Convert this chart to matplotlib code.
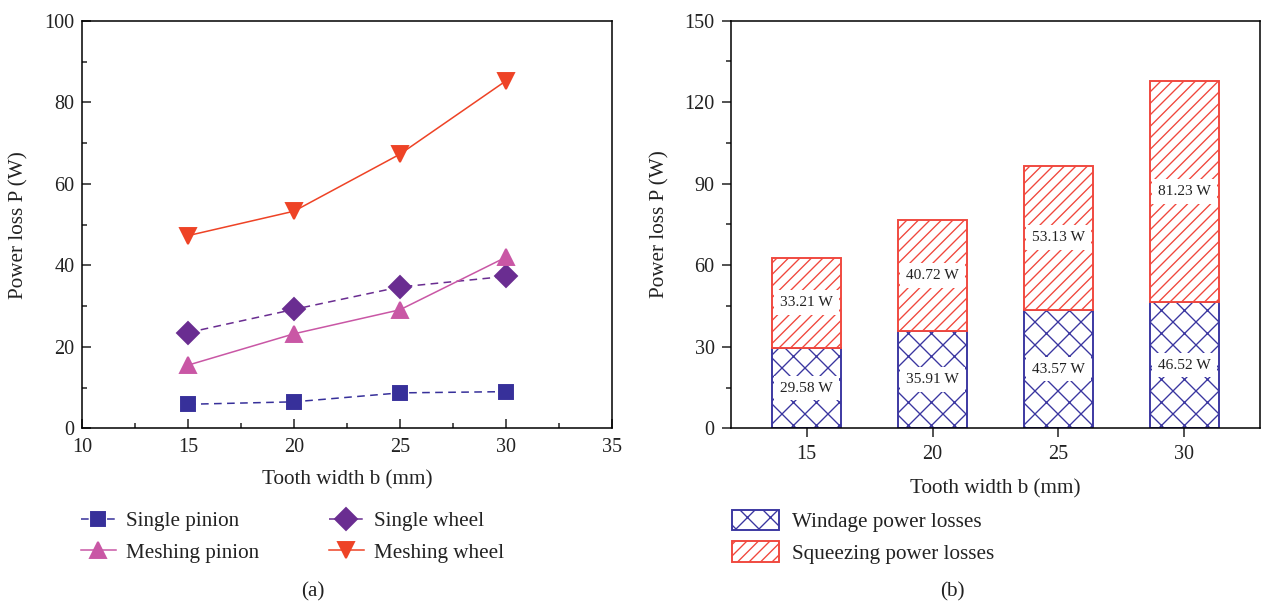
import numpy as np
import matplotlib
matplotlib.use("Agg")
import matplotlib.pyplot as plt
from matplotlib.ticker import MultipleLocator

plt.rcParams['font.family'] = ['Liberation Serif', 'DejaVu Serif']
plt.rcParams['hatch.linewidth'] = 0.7
plt.rcParams['axes.linewidth'] = 0.8

# tooth width b (mm)
widths = [15, 20, 25, 30]

# (a) power loss of each gear, W
single_pinion = [5.9, 6.5, 8.7, 9.0]
single_wheel = [23.5, 29.2, 34.7, 37.3]
meshing_pinion = [15.5, 23.2, 29.1, 42.0]
meshing_wheel = [47.3, 53.3, 67.3, 85.3]

# (b) split of the meshing losses, W
windage = [29.58, 35.91, 43.57, 46.52]
squeezing = [33.21, 40.72, 53.13, 81.23]

c_sp = '#37309a'
c_sw = '#6a2d91'
c_mp = '#c957a5'
c_mw = '#ee4326'
c_wind = '#3a36a0'
c_sq = '#f0473d'

DPI = 138
fig = plt.figure(figsize=(1263 / DPI, 603 / DPI), dpi=DPI)
ax1 = fig.add_axes([0.0649, 0.2897, 0.4196, 0.6755])
ax2 = fig.add_axes([0.5788, 0.2897, 0.4188, 0.6760])

# ---- (a) line chart ----
dash = (0, (5, 3.5))
l_sp, = ax1.plot(widths, single_pinion, ls=dash, lw=0.8, color=c_sp,
                 marker='s', ms=7, mec=c_sp, label='Single pinion')
l_sw, = ax1.plot(widths, single_wheel, ls=dash, lw=0.8, color=c_sw,
                 marker='D', ms=7.8, mec=c_sw, label='Single wheel')
l_mp, = ax1.plot(widths, meshing_pinion, ls='-', lw=0.8, color=c_mp,
                 marker='^', ms=8.5, mec=c_mp, label='Meshing pinion')
l_mw, = ax1.plot(widths, meshing_wheel, ls='-', lw=0.8, color=c_mw,
                 marker='v', ms=8.5, mec=c_mw, label='Meshing wheel')

ax1.set_xlim(10, 35)
ax1.set_ylim(0, 100)
ax1.xaxis.set_major_locator(MultipleLocator(5))
ax1.xaxis.set_minor_locator(MultipleLocator(2.5))
ax1.yaxis.set_major_locator(MultipleLocator(20))
ax1.yaxis.set_minor_locator(MultipleLocator(10))
ax1.tick_params(which='both', direction='in', width=0.8, labelsize=10.5,
                colors='#222222')
ax1.tick_params(which='major', length=4.7, pad=4)
ax1.tick_params(axis='x', which='major', pad=5)
ax1.tick_params(which='minor', length=2.4)
ax1.set_xlabel('Tooth width b (mm)', fontsize=11, labelpad=7, color='#222222')
ax1.set_ylabel('Power loss P (W)', fontsize=11, labelpad=8, color='#222222')

fig.legend([l_sp, l_mp, l_sw, l_mw],
           ['Single pinion', 'Meshing pinion', 'Single wheel', 'Meshing wheel'],
           ncol=2, loc='upper left', bbox_to_anchor=(70 / 1263, 1 - 501 / 603),
           frameon=False, borderpad=0, handlelength=1.7, handletextpad=0.45,
           columnspacing=3.3, labelspacing=0.55, fontsize=11,
           labelcolor='#222222')

# ---- (b) stacked bars ----
x = np.arange(len(widths))
bw = 0.55
b1 = ax2.bar(x, windage, bw, color='white', edgecolor=c_wind, hatch='xx',
             lw=1.0, label='Windage power losses')
b2 = ax2.bar(x, squeezing, bw, bottom=windage, color='white', edgecolor=c_sq,
             hatch='////', lw=1.0, label='Squeezing power losses')

for xi, w, s in zip(x, windage, squeezing):
    ax2.text(xi, w / 2, f'{w:.2f} W', ha='center', va='center', fontsize=8,
             color='#222222', bbox=dict(fc='white', ec='none', pad=3))
    ax2.text(xi, w + s / 2, f'{s:.2f} W', ha='center', va='center', fontsize=8,
             color='#222222', bbox=dict(fc='white', ec='none', pad=3))

ax2.set_xlim(-0.6, 3.6)
ax2.set_ylim(0, 150)
ax2.set_xticks(x)
ax2.set_xticklabels([str(w) for w in widths])
ax2.yaxis.set_major_locator(MultipleLocator(30))
ax2.yaxis.set_minor_locator(MultipleLocator(15))
ax2.tick_params(which='both', direction='out', width=0.8, labelsize=10.5,
                colors='#222222')
ax2.tick_params(which='major', length=4.5, pad=4)
ax2.tick_params(which='minor', length=2.4)
ax2.set_xlabel('Tooth width b (mm)', fontsize=11, labelpad=8, color='#222222')
ax2.set_ylabel('Power loss P (W)', fontsize=11, labelpad=8, color='#222222')

fig.legend([b1, b2], ['Windage power losses', 'Squeezing power losses'],
           loc='upper left', bbox_to_anchor=(721 / 1263, 1 - 499 / 603),
           frameon=False, borderpad=0, handlelength=2.27, handleheight=1.1,
           handletextpad=0.6, labelspacing=0.45, fontsize=11,
           labelcolor='#222222')

fig.text(313 / 1263, 1 - 592 / 603, '(a)', ha='center', va='center',
         fontsize=11, color='#222222')
fig.text(952 / 1263, 1 - 592 / 603, '(b)', ha='center', va='center',
         fontsize=11, color='#222222')

fig.savefig('out.png', dpi=DPI)
